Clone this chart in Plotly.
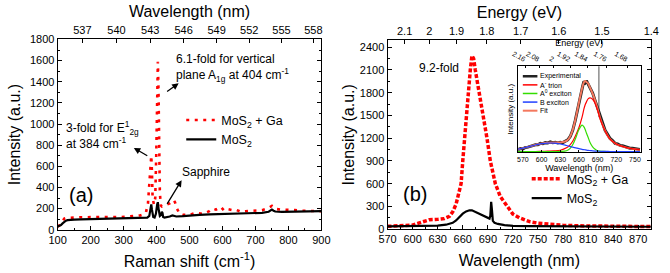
import plotly.graph_objects as go

# ---------------- data ----------------
# Panel (a): Raman spectra
raman_shift_ga = [100,105,110,115,120,125,130,140,150,170,200,230,260,290,320,350,360,368,374,378,381,384,386,388,392,396,399,402,404,406,408,410,413,416,420,430,440,448,452,456,462,470,480,500,520,540,560,570,580,595,605,615,630,640,655,670,700,720,735,745,750,755,765,780,800,820,840,860,880,900]
raman_int_ga = [30,40,60,80,105,110,110,115,115,118,120,120,120,118,125,135,145,165,250,450,650,700,550,300,240,300,700,1400,1590,1300,700,350,230,220,225,235,250,270,280,260,200,150,140,140,160,150,175,200,190,215,180,195,185,190,170,175,180,185,200,215,225,210,195,190,190,185,180,178,175,175]

raman_shift_mos2 = [100,105,110,115,120,125,130,140,150,170,200,230,260,290,320,350,365,372,378,382,384,386,390,394,398,402,404,406,410,414,416,418,420,424,430,440,448,452,460,480,500,530,560,600,640,680,720,740,745,750,755,760,780,800,850,900]
raman_int_mos2 = [30,35,45,60,75,85,90,95,95,98,100,100,102,103,105,108,110,115,130,200,240,190,120,115,150,240,260,200,130,140,170,160,120,115,118,125,135,130,125,128,135,140,145,150,150,155,160,170,180,190,180,172,168,170,172,175]

laser_nm = 532.0
raman_top_nm = [537, 540, 543, 546, 549, 552, 555, 558]

# Panel (b): PL spectra
pl_wl_ga = [570,585,600,607,613,620,630,638,644,648,652,655,658,660,662,664,667,669,671,673,675,680,684,689,693,699,705,713,720,728,740,750,765,780,800,830,860,885]
pl_int_ga = [38,42,55,80,105,125,130,140,170,230,330,450,600,900,1200,1500,1800,2100,2290,2250,2100,1800,1500,1200,900,600,430,300,200,150,100,80,62,52,45,40,37,35]

pl_wl_mos2 = [570,590,610,630,640,648,652,656,660,664,668,671,675,680,685,690,692,693,694,695,696,698,702,710,720,740,780,830,885]
pl_int_mos2 = [38,40,42,48,60,85,115,165,205,235,250,250,230,205,180,150,140,180,360,250,110,85,70,55,45,40,37,35,33]

energy_ticks_main = [2.1, 2.0, 1.9, 1.8, 1.7, 1.6, 1.5, 1.4]
energy_labels_main = ["2.1", "2", "1.9", "1.8", "1.7", "1.6", "1.5", "1.4"]

# Inset: normalised PL fit
inset_wl = [562,570,580,590,600,610,620,630,640,645,650,655,660,665,668,670,672,675,678,682,686,690,695,700,705,710,720,730,740,750,758]
inset_b = [0.035,0.05,0.072,0.096,0.115,0.124,0.123,0.11,0.088,0.076,0.064,0.053,0.042,0.033,0.028,0.025,0.022,0.018,0.015,0.011,0.008,0.006,0.004,0.003,0.002,0.001,0,0,0,0,0]
inset_a0 = [0,0,0,0,0,0,0,0.002,0.012,0.04,0.1,0.2,0.32,0.385,0.36,0.32,0.27,0.2,0.13,0.07,0.035,0.012,0.005,0.002,0,0,0,0,0,0,0]
inset_trion = [0,0,0,0,0.003,0.006,0.01,0.02,0.055,0.09,0.15,0.24,0.35,0.5,0.62,0.68,0.72,0.77,0.78,0.76,0.7,0.6,0.45,0.34,0.25,0.18,0.11,0.075,0.05,0.035,0.028]
inset_fit = [0.035,0.05,0.072,0.096,0.118,0.13,0.133,0.132,0.155,0.206,0.314,0.493,0.712,0.918,1.008,1.025,1.012,0.988,0.925,0.841,0.743,0.618,0.459,0.345,0.252,0.181,0.11,0.075,0.05,0.035,0.028]

inset_exp_wl = [562,566,570,574,578,582,586,590,594,598,602,606,610,614,618,622,626,630,634,638,642,646,650,654,658,662,666,668,670,672,674,678,682,686,690,694,698,702,706,710,714,718,722,726,730,734,738,742,746,750,754,758]
inset_exp = [0.03,0.045,0.04,0.06,0.065,0.08,0.085,0.1,0.1,0.12,0.115,0.13,0.125,0.14,0.13,0.135,0.125,0.135,0.13,0.145,0.17,0.22,0.31,0.45,0.63,0.8,0.95,1.02,1.0,1.03,0.99,0.93,0.85,0.74,0.63,0.5,0.4,0.31,0.25,0.19,0.16,0.12,0.11,0.09,0.085,0.07,0.065,0.05,0.05,0.04,0.035,0.03]

inset_ruby_nm = 692
inset_ruby_span = [0.5, 1.3]

inset_energy_ticks = [2.16, 2.08, 2.00, 1.92, 1.84, 1.76, 1.68]
inset_energy_labels = ["2.16", "2.08", "2", "1.92", "1.84", "1.76", "1.68"]

# ---------------- figure ----------------
FONT = "Liberation Sans, Arial, sans-serif"
W, H = 670, 273

def px(x):
    return x / W

def py(y):
    return 1 - y / H

fig = go.Figure()

# Panel (a)  (black series on the top wavelength axis so that axis is drawn and the line sits on top)
fig.add_trace(go.Scatter(x=raman_shift_ga, y=raman_int_ga, mode="lines",
                         line=dict(color="#ff0000", width=2.6, dash="3px,5.5px"),
                         name="MoS<sub>2</sub> + Ga", xaxis="x", yaxis="y", legend="legend"))
fig.add_trace(go.Scatter(x=raman_shift_mos2, y=raman_int_mos2, mode="lines",
                         line=dict(color="black", width=2.2),
                         name="MoS<sub>2</sub>", xaxis="x2", yaxis="y", legend="legend"))

# Panel (b)
fig.add_trace(go.Scatter(x=pl_wl_ga, y=pl_int_ga, mode="lines",
                         line=dict(color="#ff0000", width=3.5, dash="4px,2px"),
                         name="MoS<sub>2</sub> + Ga", xaxis="x3", yaxis="y2", legend="legend2"))
fig.add_trace(go.Scatter(x=pl_wl_mos2, y=pl_int_mos2, mode="lines",
                         line=dict(color="black", width=2.2),
                         name="MoS<sub>2</sub>", xaxis="x4", yaxis="y2", legend="legend2"))

# Inset
fig.add_trace(go.Scatter(x=[inset_ruby_nm, inset_ruby_nm], y=inset_ruby_span, mode="lines",
                         line=dict(color="#8c8c8c", width=1.5), showlegend=False,
                         xaxis="x5", yaxis="y3"))
fig.add_trace(go.Scatter(x=inset_exp_wl, y=inset_exp, mode="lines",
                         line=dict(color="#222222", width=3), showlegend=False,
                         xaxis="x5", yaxis="y3"))
fig.add_trace(go.Scatter(x=inset_wl, y=inset_fit, mode="lines", line_shape="spline",
                         line=dict(color="#f4785e", width=2), showlegend=False,
                         xaxis="x6", yaxis="y3"))
fig.add_trace(go.Scatter(x=inset_wl, y=inset_trion, mode="lines", line_shape="spline",
                         line=dict(color="#ff0000", width=1.2), showlegend=False,
                         xaxis="x6", yaxis="y3"))
fig.add_trace(go.Scatter(x=inset_wl, y=inset_a0, mode="lines", line_shape="spline",
                         line=dict(color="#33dd00", width=1.2), showlegend=False,
                         xaxis="x6", yaxis="y3"))
fig.add_trace(go.Scatter(x=inset_wl, y=inset_b, mode="lines", line_shape="spline",
                         line=dict(color="#2040ff", width=1.2), showlegend=False,
                         xaxis="x6", yaxis="y3"))

# axis helpers
def shift_of_nm(nm):
    return 1e7 / laser_nm - 1e7 / nm

def nm_of_ev(ev):
    return 1239.84 / ev

tickfont = dict(family=FONT, size=11, color="black")
titlefont = dict(family=FONT, size=16, color="black")
common = dict(showgrid=False, zeroline=False, showline=True, linecolor="black", linewidth=1,
              ticks="inside", ticklen=4, tickcolor="black", tickfont=tickfont)
minor_in = dict(ticks="inside", ticklen=2, tickcolor="black")

dom_a_x = [px(50), px(321)]
dom_a_y = [py(234), py(35)]
dom_b_x = [px(389), px(660)]
dom_b_y = [py(233.5), py(36)]
dom_i_x = [px(523), px(649)]
dom_i_y = [py(153), py(63)]

small_tick = dict(family=FONT, size=7, color="black")
small_common = dict(showgrid=False, zeroline=False, showline=True, linecolor="black", linewidth=1,
                    ticks="inside", ticklen=2, tickcolor="black", tickfont=small_tick)

fig.update_layout(
    width=W, height=H, margin=dict(l=0, r=0, t=0, b=0),
    paper_bgcolor="white", plot_bgcolor="white",
    font=dict(family=FONT, color="black"),
    xaxis=dict(**common, domain=dom_a_x, range=[100, 900], anchor="y", tick0=100, dtick=100,
               minor=dict(**minor_in, dtick=50),
               title=dict(text="Raman shift (cm<sup>-1</sup>)", font=titlefont, standoff=10)),
    xaxis2=dict(**common, domain=dom_a_x, range=[100, 900], anchor="y", overlaying="x", side="top",
                tickmode="array", tickvals=[shift_of_nm(v) for v in raman_top_nm],
                ticktext=[str(v) for v in raman_top_nm],
                title=dict(text="Wavelength (nm)", font=titlefont, standoff=2)),
    yaxis=dict(**common, domain=dom_a_y, range=[0, 1800], anchor="x", tick0=0, dtick=200,
               mirror="ticks", minor=dict(**minor_in, dtick=100),
               title=dict(text="Intensity (a.u.)", font=titlefont, standoff=5)),
    xaxis3=dict(**common, domain=dom_b_x, range=[570, nm_of_ev(1.4)], anchor="y2", tick0=570, dtick=30,
                minor=dict(**minor_in, dtick=15),
                title=dict(text="Wavelength (nm)", font=titlefont, standoff=10)),
    xaxis4=dict(**common, domain=dom_b_x, range=[570, nm_of_ev(1.4)], anchor="y2", overlaying="x3", side="top",
                tickmode="array", tickvals=[nm_of_ev(e) for e in energy_ticks_main],
                ticktext=energy_labels_main,
                title=dict(text="Energy (eV)", font=titlefont, standoff=2)),
    yaxis2=dict(**common, domain=dom_b_y, range=[0, 2490], anchor="x3", tick0=0, dtick=300,
                mirror="ticks", minor=dict(**minor_in, dtick=150),
                title=dict(text="Intensity (a.u.)", font=titlefont, standoff=1)),
    xaxis5=dict(**small_common, domain=dom_i_x, range=[562, 759], anchor="y3", tick0=570, dtick=30,
                title=dict(text="Wavelength (nm)", font=dict(family=FONT, size=9, color="black"), standoff=1)),
    xaxis6=dict(**small_common, domain=dom_i_x, range=[562, 759], anchor="y3", overlaying="x5", side="top",
                tickmode="array", tickvals=[nm_of_ev(e) for e in inset_energy_ticks],
                ticktext=inset_energy_labels,
                title=dict(text="Energy (eV)", font=dict(family=FONT, size=9, color="black"), standoff=1)),
    yaxis3=dict(showgrid=False, zeroline=False, showline=True, linecolor="black", linewidth=1,
                mirror=True, ticks="", showticklabels=False,
                domain=dom_i_y, range=[-0.01, 1.24], anchor="x5",
                title=dict(text="Intensity (a.u.)", font=dict(family=FONT, size=8, color="black"), standoff=2)),
    legend=dict(x=px(177), y=py(104), xanchor="left", yanchor="top", bgcolor="rgba(0,0,0,0)",
                font=dict(family=FONT, size=12.5, color="black"), itemwidth=30, tracegroupgap=0),
    legend2=dict(x=px(532), y=py(165.5), xanchor="left", yanchor="top", bgcolor="rgba(0,0,0,0)",
                 font=dict(family=FONT, size=12.5, color="black"), itemwidth=30, tracegroupgap=0),
)

ann_font = dict(family=FONT, size=12, color="black")
annotations = [
    dict(text="6.1-fold for vertical", x=452, y=1611, xref="x", yref="y", xanchor="left", showarrow=False, font=ann_font),
    dict(text="plane A<sub>1g</sub> at 404 cm<sup>-1</sup>", x=452, y=1460, xref="x", yref="y", xanchor="left", showarrow=False, font=ann_font),
    dict(text="3-fold for E<sup>1</sup><sub>2g</sub>", x=120, y=960, xref="x", yref="y", xanchor="left", showarrow=False, font=ann_font),
    dict(text="at 384 cm<sup>-1</sup>", x=120, y=825, xref="x", yref="y", xanchor="left", showarrow=False, font=ann_font),
    dict(text="Sapphire", x=470, y=549, xref="x", yref="y", xanchor="left", showarrow=False, font=ann_font),
    dict(text="(a)", x=172, y=324, xref="x", yref="y", showarrow=False, font=dict(family=FONT, size=20, color="black")),
    # arrows (head near the label, tail at the peak)
    dict(x=467, y=1386, ax=423, ay=1287, xref="x", yref="y", axref="x", ayref="y",
         showarrow=True, arrowhead=2, arrowsize=1, arrowwidth=1.3, arrowcolor="black"),
    dict(x=331, y=774, ax=381, ay=684, xref="x", yref="y", axref="x", ayref="y",
         showarrow=True, arrowhead=2, arrowsize=1, arrowwidth=1.3, arrowcolor="black"),
    dict(x=476, y=468, ax=423, ay=198, xref="x", yref="y", axref="x", ayref="y",
         showarrow=True, arrowhead=2, arrowsize=1, arrowwidth=1.3, arrowcolor="black"),
    dict(text="9.2-fold", x=632, y=2127, xref="x3", yref="y2", showarrow=False, font=ann_font),
    dict(text="(b)", x=603, y=460, xref="x3", yref="y2", showarrow=False, font=dict(family=FONT, size=20, color="black")),
]

# inset manual legend
inset_legend = [("Experimental", "#222222", 2.5), ("A<sup>-</sup> trion", "#ff0000", 1.5),
                ("A<sup>0</sup> exciton", "#33dd00", 1.5), ("B exciton", "#2040ff", 1.5),
                ("Fit", "#f4785e", 2)]
shapes = []
for i, (lab, col, wd) in enumerate(inset_legend):
    yy = 73.5 + i * 9
    shapes.append(dict(type="line", xref="paper", yref="paper", x0=px(528), x1=px(543),
                       y0=py(yy), y1=py(yy), line=dict(color=col, width=wd)))
    annotations.append(dict(text=lab, x=px(544), y=py(yy), xref="paper", yref="paper",
                            xanchor="left", yanchor="middle", showarrow=False,
                            font=dict(family=FONT, size=7, color="black")))

fig.update_layout(annotations=annotations, shapes=shapes)

fig.write_html("out.html", config={"displayModeBar": False},
               post_script="document.body.style.margin='0px';")
